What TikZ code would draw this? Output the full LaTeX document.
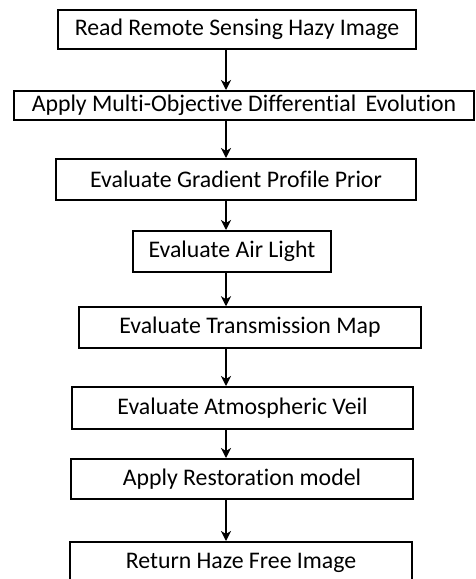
\documentclass[tikz,border=0pt]{standalone}
\usepackage{fontspec}
\setmainfont[Ligatures={NoCommon}]{Carlito}
\usetikzlibrary{arrows.meta}

\tikzset{
  stage/.style = {draw, line width=2pt, inner sep=0pt, align=center,
                  font=\fontsize{23.8}{26}\selectfont},
  flow/.style  = {line width=1.6pt, -{Stealth[length=10pt,width=10pt,inset=3pt]}}
}

\begin{document}
\begin{tikzpicture}[x=1pt, y=-1pt]
    \useasboundingbox (0,0) rectangle (476,579);
    % steps of the method
    \node[stage, minimum width=358pt, minimum height=39pt] (read) at (237,29.5) {Read Remote Sensing Hazy Image};
    \node[stage, minimum width=460pt, minimum height=29pt] (mode) at (244,105.5) {Apply Multi-Objective Differential\, Evolution};
    \node[stage, minimum width=360pt, minimum height=41pt] (gpp) at (236,179.5) {Evaluate Gradient Profile Prior};
    \node[stage, minimum width=198pt, minimum height=41pt] (air) at (232,251.5) {Evaluate Air Light};
    \node[stage, minimum width=342pt, minimum height=41pt, line width=1.5pt] (trans) at (250,327.5) {Evaluate Transmission Map};
    \node[stage, minimum width=341pt, minimum height=42pt] (veil) at (242.5,408) {Evaluate Atmospheric Veil};
    \node[stage, minimum width=342pt, minimum height=40pt] (rest) at (242,479) {Apply Restoration model};
    \node[stage, minimum width=342pt, minimum height=42pt] (ret) at (241,563) {Return Haze Free Image};
    % arrows run down one line
    \coordinate (axis) at (226,0);
    \draw[flow] (read.south -| axis) -- (mode.north -| axis);
    \draw[flow] (mode.south -| axis) -- (gpp.north -| axis);
    \draw[flow] (gpp.south -| axis) -- (air.north -| axis);
    \draw[flow] (air.south -| axis) -- (trans.north -| axis);
    \draw[flow] (trans.south -| axis) -- (veil.north -| axis);
    \draw[flow] (veil.south -| axis) -- (rest.north -| axis);
    \draw[flow] (rest.south -| axis) -- (ret.north -| axis);
\end{tikzpicture}
\end{document}
